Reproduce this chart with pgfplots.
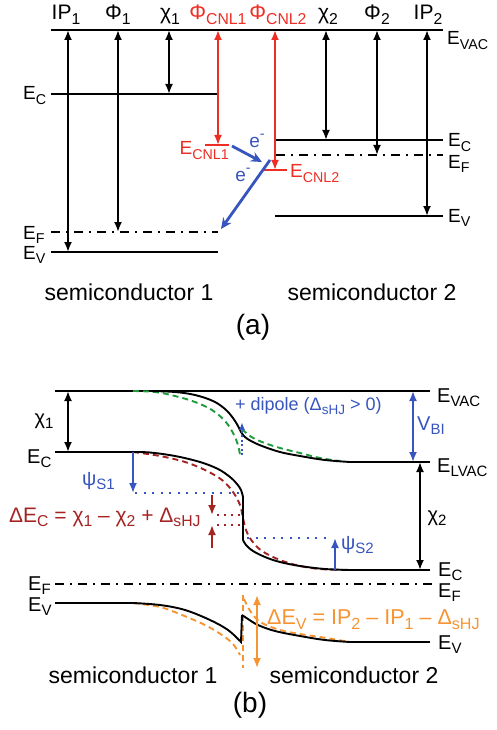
\documentclass[border=0pt]{standalone}
\usepackage{pgfplots}
\pgfplotsset{compat=1.18}
\usetikzlibrary{arrows.meta}
\usepackage{fontspec}
\setmainfont{Liberation Sans}
\definecolor{ared}{RGB}{238,45,36}
\definecolor{bblue}{RGB}{55,85,190}
\definecolor{dred}{RGB}{165,35,35}
\definecolor{bor}{RGB}{247,148,50}
\definecolor{bgr}{RGB}{30,155,60}
\newcommand\sub[1]{\raisebox{-0.45ex}{\scalebox{0.75}{#1}}}
\newcommand\sups[1]{\raisebox{0.9ex}{\scalebox{0.75}{#1}}}
\tikzset{
  dbl/.style={{Latex[length=10pt,width=8pt]}-{Latex[length=10pt,width=8pt]}},
  sarr/.style={-{Latex[length=10pt,width=8pt]}},
  dashdot/.style={dash pattern=on 9pt off 6pt on 2pt off 6pt},
  dsh/.style={dash pattern=on 6pt off 4pt},
  dots/.style={dash pattern=on 2pt off 6.5pt},
  ta/.style={font=\fontsize{21}{24}\selectfont, inner sep=0pt},
  el/.style={font=\fontsize{19}{22}\selectfont, inner sep=0pt},
  eb/.style={font=\fontsize{20}{23}\selectfont, inner sep=0pt},
  sc/.style={font=\fontsize{23}{26}\selectfont, inner sep=0pt},
  pl/.style={font=\fontsize{28}{32}\selectfont, inner sep=0pt},
}
\begin{document}
\begin{tikzpicture}
\begin{axis}[width=496pt,height=730pt,scale only axis,
  xmin=0,xmax=496,ymin=0,ymax=730,y dir=reverse,hide axis,clip=false,
  every axis plot/.append style={line width=1.9pt},
]
\addplot[draw=none] coordinates {(0,0)(496,730)};
% ---------------- (a) ----------------
\addplot[black] coordinates {(51,30)(443,30)};
\addplot[black] coordinates {(51,94)(218,94)};
\addplot[black,dashdot] coordinates {(51,232)(218,232)};
\addplot[black] coordinates {(51,252)(218,252)};
\addplot[black] coordinates {(276,140)(443,140)};
\addplot[black,dashdot] coordinates {(276,155)(443,155)};
\addplot[black] coordinates {(275,216)(443,216)};
\addplot[black,dbl] coordinates {(68,30)(68,252)};
\addplot[black,dbl] coordinates {(118,30)(118,232)};
\addplot[black,dbl] coordinates {(169,30)(169,94)};
\addplot[black,dbl] coordinates {(326,30)(326,140)};
\addplot[black,dbl] coordinates {(377,30)(377,155)};
\addplot[black,dbl] coordinates {(427,30)(427,216)};
\addplot[ared,dbl] coordinates {(218,30)(218,145)};
\addplot[ared,dbl] coordinates {(275,30)(275,170)};
\addplot[ared] coordinates {(205,145)(229,145)};
\addplot[ared] coordinates {(263,170)(287,170)};
\addplot[bblue,line width=2.8pt,-{Stealth[length=11pt,width=10pt]}] coordinates {(232,146)(262,162)};
\addplot[bblue,line width=2.8pt,-{Stealth[length=11pt,width=10pt]}] coordinates {(270,160)(221,229)};
\node[ta,anchor=base] at (axis cs:66,20) {IP\sub{1}};
\node[ta,anchor=base] at (axis cs:118,20) {Φ\sub{1}};
\node[ta,anchor=base] at (axis cs:170,20) {χ\sub{1}};
\node[ta,anchor=base,text=ared] at (axis cs:218,20) {Φ\sub{CNL1}};
\node[ta,anchor=base,text=ared] at (axis cs:278,20) {Φ\sub{CNL2}};
\node[ta,anchor=base] at (axis cs:328,20) {χ\sub{2}};
\node[ta,anchor=base] at (axis cs:377,20) {Φ\sub{2}};
\node[ta,anchor=base] at (axis cs:428,20) {IP\sub{2}};
\node[el,anchor=base west] at (axis cs:447,45) {E\sub{VAC}};
\node[el,anchor=base west] at (axis cs:448,147) {E\sub{C}};
\node[el,anchor=base west] at (axis cs:448,168) {E\sub{F}};
\node[el,anchor=base west] at (axis cs:448,222) {E\sub{V}};
\node[el,anchor=base west] at (axis cs:23,100) {E\sub{C}};
\node[el,anchor=base west] at (axis cs:23,239) {E\sub{F}};
\node[el,anchor=base west] at (axis cs:23,259) {E\sub{V}};
\node[el,anchor=base east,text=ared] at (axis cs:229,155) {E\sub{CNL1}};
\node[el,anchor=base west,text=ared] at (axis cs:290,178) {E\sub{CNL2}};
\node[el,anchor=base,text=bblue] at (axis cs:257,148) {e\sups{-}};
\node[el,anchor=base,text=bblue] at (axis cs:243,182) {e\sups{-}};
\node[sc,anchor=base] at (axis cs:129,300) {semiconductor 1};
\node[sc,anchor=base] at (axis cs:372,300) {semiconductor 2};
\node[pl,anchor=base] at (axis cs:253,334) {(a)};
% ---------------- (b) ----------------
\addplot[black] coordinates {(55,391)(430,391)};
\addplot[bgr,dsh,smooth,tension=0.6] coordinates {(133,391)(155,392)(175,396)(195,402)(212,410)(225,421)(233,433)(238,445)(240,455)};
\addplot[bgr,dsh,smooth,tension=0.6] coordinates {(242,429)(250,436)(262,442)(280,448)(300,453)(320,458)(340,461)};
\addplot[black,smooth,tension=0.6] coordinates {(150,391)(175,392)(195,395)(213,401)(225,409)(233,418)(238,426)(241,432)(245,437)(251,441)(262,446)(280,452)(300,456)(325,460)(350,462)};
\addplot[black] coordinates {(350,462)(430,462)};
\addplot[bblue,line width=1.6pt,dash pattern=on 2pt off 2.5pt,-{Latex[length=8pt,width=6pt]}] coordinates {(242,455)(242,422)};
\node[anchor=base west,text=bblue,inner sep=0pt,font=\fontsize{18}{21}\selectfont] at (axis cs:235,410) {+ dipole (Δ\sub{sHJ} > 0)};
\addplot[bblue,dbl] coordinates {(413,391)(413,462)};
\node[eb,anchor=base west,text=bblue] at (axis cs:417,430) {V\sub{BI}};
\node[eb,anchor=base west] at (axis cs:437,402) {E\sub{VAC}};
\node[eb,anchor=base west] at (axis cs:437,472) {E\sub{LVAC}};
\addplot[black,dbl] coordinates {(420,462)(420,570)};
\node[eb,anchor=center] at (axis cs:437,518) {χ\sub{2}};
\addplot[black,dbl] coordinates {(68,391)(68,452)};
\node[eb,anchor=center] at (axis cs:44,421) {χ\sub{1}};
% conduction band
\addplot[black] coordinates {(55,452)(133,452)};
\addplot[dred,dsh,smooth,tension=0.6] coordinates {(133,452)(160,456)(185,462)(205,470)(222,480)(233,492)(240,505)(243,518)(246,530)(252,541)(262,551)(280,560)(300,566)(320,569)(345,570)};
\addplot[black,smooth,tension=0.6] coordinates {(133,452)(150,452.5)(175,456)(200,462)(218,469)(230,477)(237,484)(241,490)(243,497)};
\addplot[black] coordinates {(243,497)(243,540)};
\addplot[black,smooth,tension=0.6] coordinates {(243,540)(246,545)(253,551)(265,557)(280,562)(300,566)(325,569)(350,570)};
\addplot[black] coordinates {(350,570)(430,570)};
\node[eb,anchor=base west] at (axis cs:27,463) {E\sub{C}};
\node[eb,anchor=base west] at (axis cs:438,576) {E\sub{C}};
% psi
\addplot[bblue,dots] coordinates {(135,493)(243,493)};
\addplot[bblue,sarr] coordinates {(133,452)(133,493)};
\node[eb,anchor=base west,text=bblue] at (axis cs:82,485) {ψ\sub{S1}};
\addplot[bblue,dots] coordinates {(247,538)(330,538)};
\addplot[bblue,sarr] coordinates {(335,570)(335,538)};
\node[eb,anchor=base west,text=bblue] at (axis cs:341,549) {ψ\sub{S2}};
% delta Ec
\addplot[dred,line width=1.6pt,dash pattern=on 2pt off 5pt] coordinates {(217,515)(243,515)};
\addplot[dred,line width=1.6pt,dash pattern=on 2pt off 5pt] coordinates {(217,525)(243,525)};
\addplot[dred,sarr] coordinates {(212,495)(212,515)};
\addplot[dred,sarr] coordinates {(212,548)(212,525)};
\node[anchor=base west,inner sep=0pt,font=\fontsize{21}{24}\selectfont,text=dred] at (axis cs:9,522) {ΔE\sub{C} = χ\sub{1} – χ\sub{2} + Δ\sub{sHJ}};
% Fermi level
\addplot[black,dashdot] coordinates {(55,584)(432,584)};
\node[eb,anchor=base west] at (axis cs:28,590) {E\sub{F}};
\node[eb,anchor=base west] at (axis cs:438,597) {E\sub{F}};
% valence band
\addplot[black] coordinates {(55,603)(133,603)};
\addplot[bor,dsh,smooth,tension=0.6] coordinates {(133,603)(160,607)(182,615)(205,625)(222,635)(233,644)(240,655)};
\addplot[bor,dsh] coordinates {(243,595)(243,668)};
\addplot[bor,dsh,smooth,tension=0.6] coordinates {(244,599)(248,607)(253,615)(262,623)(280,630)(300,634)(320,637)(350,642)};
\addplot[black,smooth,tension=0.6] coordinates {(133,603)(160,605)(185,610)(210,620)(228,630)(240,641)};
\addplot[black] coordinates {(240,641)(241,642)(242,615)};
\addplot[black,smooth,tension=0.6] coordinates {(242,615)(248,619)(258,625)(275,631)(300,636)(325,640)(350,642)};
\addplot[black] coordinates {(350,642)(430,642)};
\addplot[bor,dbl] coordinates {(257,595)(257,668)};
\node[anchor=base west,inner sep=0pt,font=\fontsize{21.5}{24}\selectfont,text=bor] at (axis cs:267,624) {ΔE\sub{V} = IP\sub{2} – IP\sub{1} – Δ\sub{sHJ}};
\node[eb,anchor=base west] at (axis cs:28,611) {E\sub{V}};
\node[eb,anchor=base west] at (axis cs:438,649) {E\sub{V}};
\node[sc,anchor=base] at (axis cs:133,683) {semiconductor 1};
\node[sc,anchor=base] at (axis cs:354,683) {semiconductor 2};
\node[pl,anchor=base] at (axis cs:250,712) {(b)};
\end{axis}
\end{tikzpicture}
\end{document}
